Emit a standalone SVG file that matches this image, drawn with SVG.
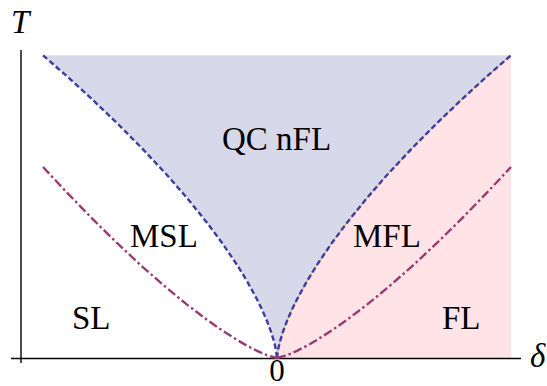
<svg xmlns="http://www.w3.org/2000/svg" width="547" height="386" viewBox="0 0 547 386">
<style>
.dash{fill:none;stroke:#3d3d9e;stroke-width:2.4;stroke-dasharray:5.5 3}
.dd{fill:none;stroke:#9b3a72;stroke-width:2.4;stroke-dasharray:9 3 2.5 3}
.ax{stroke:#000;stroke-width:1.4;fill:none}
text.lbl{font-family:'Liberation Serif',serif !important;font-size:33px;fill:#000}
</style>
<g id="regions">
<polygon id="qc-region" fill="#d8d8eb" points="43,55.3 67,76.3 92,99.2 117,123.1 142,148.3 167,175 187,198 207,222.7 222,242.8 237,264.8 247,281.1 257,299.3 262,309.5 267,321 271,331.7 274,341.4 276,350 277,358 278,350 280,341.4 283,331.7 287,321 292,309.5 297,299.3 307,281.1 317,264.8 332,242.8 347,222.7 367,198 387,175 412,148.3 437,123.1 462,99.2 487,76.3 511,55.3"/>
<polygon id="fl-region" fill="#ffe3e6" points="277,358 278,350 280,341.4 283,331.7 287,321 292,309.5 297,299.3 307,281.1 317,264.8 332,242.8 347,222.7 367,198 387,175 412,148.3 437,123.1 462,99.2 487,76.3 511,55.3 511,358"/>
</g>
<g id="axes">
<line class="ax" x1="21" y1="50" x2="21" y2="363"/>
<line class="ax" x1="11" y1="358.5" x2="521" y2="358.5"/>
</g>
<g id="connectors">
<polyline id="left-dashed" class="dash" points="43,55.3 67,76.3 92,99.2 117,123.1 142,148.3 167,175 187,198 207,222.7 222,242.8 237,264.8 247,281.1 257,299.3 262,309.5 267,321 271,331.7 274,341.4 276,350 277,358"/>
<polyline id="right-edge" fill="none" stroke="#c8b070" stroke-width="1" points="277,358 278,350 280,341.4 283,331.7 287,321 292,309.5 297,299.3 307,281.1 317,264.8 332,242.8 347,222.7 367,198 387,175 412,148.3 437,123.1 462,99.2 487,76.3 511,55.3"/>
<polyline id="right-dashed" class="dash" points="277,358 278,350 280,341.4 283,331.7 287,321 292,309.5 297,299.3 307,281.1 317,264.8 332,242.8 347,222.7 367,198 387,175 412,148.3 437,123.1 462,99.2 487,76.3 511,55.3"/>
<polyline id="left-dashdot" class="dd" points="43,167 67,192.6 92,218.4 117,243 142,266.4 167,288.2 187,304.6 207,319.8 222,330.3 237,339.9 247,345.7 257,350.8 267,355.2 277,358"/>
<polyline id="right-dashdot" class="dd" points="277,358 287,355.2 297,350.8 307,345.7 317,339.9 332,330.3 347,319.8 367,304.6 387,288.2 412,266.4 437,243 462,218.4 487,192.6 511,167"/>
</g>
<g id="labels">
<text id="T" class="lbl" x="11" y="33" style="font-family:'Liberation Serif',serif !important;font-style:italic">T</text>
<text id="delta" class="lbl" x="530" y="367" style="font-family:'Liberation Serif',serif !important;font-style:italic">δ</text>
<text id="zero" class="lbl" x="277" y="381" text-anchor="middle" style="font-family:'Liberation Serif',serif !important;font-size:31px">0</text>
<text id="qc" class="lbl" x="222" y="150" style="font-family:'Liberation Serif',serif !important">QC nFL</text>
<text id="msl" class="lbl" x="130" y="247" style="font-family:'Liberation Serif',serif !important">MSL</text>
<text id="mfl" class="lbl" x="353" y="247" style="font-family:'Liberation Serif',serif !important">MFL</text>
<text id="sl" class="lbl" x="72" y="329" style="font-family:'Liberation Serif',serif !important">SL</text>
<text id="fl" class="lbl" x="442" y="329" style="font-family:'Liberation Serif',serif !important">FL</text>
</g>
</svg>
